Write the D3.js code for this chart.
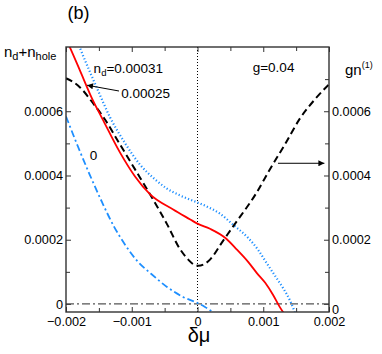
<!DOCTYPE html>
<html lang="en">
  <head>
    <meta charset="utf-8" />
    <title>n_d + n_hole vs delta mu</title>
    <script src="https://d3js.org/d3.v7.js"></script>
    <style>
      body { margin: 0; background: #fff; }
    </style>
  </head>
  <body>
    <div id="graph"></div>
    <script>

    // ---- data ----
    // black dashed: gn^(1) (right axis)
    var dmuGn = [-0.002, -0.00179, -0.0016, -0.00141, -0.00118, -0.00095, -0.00072, -0.00046, -0.00027, -0.00014, -0.00005, 0.00001, 0.00011, 0.00019, 0.00037, 0.00054, 0.0009, 0.0011, 0.00133, 0.00156, 0.00179, 0.002];
    var gn1 = [0.000703, 0.000675, 0.000628, 0.000575, 0.000497, 0.000419, 0.000341, 0.000247, 0.000172, 0.000138, 0.000122, 0.000119, 0.000125, 0.000138, 0.000191, 0.000241, 0.000347, 0.000419, 0.000497, 0.000578, 0.000638, 0.000684];

    // red solid: n_d = 0.00025
    var dmuRed = [-0.002, -0.00195, -0.00179, -0.0016, -0.00145, -0.00118, -0.00095, -0.00072, -0.00037, -0.00011, 0, 0.00019, 0.00042, 0.0006, 0.00077, 0.0009, 0.00103, 0.00115, 0.00125, 0.00132];
    var nRed = [0.000825, 0.000803, 0.000728, 0.000638, 0.000578, 0.000472, 0.000397, 0.000341, 0.000294, 0.000263, 0.00025, 0.000234, 0.000206, 0.000169, 0.000131, 0.000097, 0.000066, 0.000028, -0.000009, -0.000031];

    // blue dotted: n_d = 0.00031
    var dmuDot = [-0.00186, -0.0018, -0.00151, -0.00133, -0.0011, -0.000875, -0.000646, -0.000464, -0.000266, -0.000114, 0, 0.000144, 0.000342, 0.00054, 0.000768, 0.00092, 0.00104, 0.00118, 0.0013, 0.00141, 0.00148];
    var nDot = [0.000834, 0.000803, 0.000663, 0.000581, 0.0005, 0.000434, 0.000388, 0.000359, 0.000338, 0.000325, 0.000316, 0.000303, 0.000281, 0.000247, 0.000206, 0.000169, 0.000131, 0.0000875, 0.00005, 0.0000094, -0.000025];

    // blue dash-dot: n_d = 0
    var dmuZero = [-0.002, -0.00182, -0.00164, -0.00145, -0.00127, -0.00109, -0.000905, -0.000722, -0.000464, -0.00022, 0, 0.000114, 0.000251];
    var nZero = [0.000584, 0.000491, 0.000403, 0.000316, 0.000241, 0.000181, 0.000131, 0.0000969, 0.0000531, 0.0000219, 0.0000031, -0.0000094, -0.000028];

    // ticks
    var xTicks = [-0.002, -0.001, 0, 0.001, 0.002];
    var xMinor = [-0.0015, -0.0005, 0.0005, 0.0015];
    var yTicks = [0, 0.0002, 0.0004, 0.0006];
    var yMinor = [0.0001, 0.0003, 0.0005, 0.0007];

    // ---- layout ----
    var w = 382, h = 354;
    var margin = {top: 47, right: 53, bottom: 42, left: 66};
    var innerWidth = w - margin.left - margin.right;
    var innerHeight = h - margin.top - margin.bottom;
    var FONT = "'Liberation Sans', Arial, Helvetica, sans-serif";

    var x = d3.scaleLinear().domain([-0.002, 0.002]).range([0, innerWidth]);
    var y = d3.scaleLinear().domain([-0.000025, 0.0008]).range([innerHeight, 0]);

    var svg = d3.select("#graph")
      .append("svg")
        .attr("width", w)
        .attr("height", h)
        .attr("font-family", FONT)
      .append("g")
        .attr("transform", `translate(${margin.left},${margin.top})`);

    var defs = svg.append("defs");
    defs.append("clipPath").attr("id", "plotclip")
      .append("rect").attr("width", innerWidth).attr("height", innerHeight);
    defs.append("marker")
        .attr("id", "head")
        .attr("viewBox", "0 0 10 10")
        .attr("refX", 10).attr("refY", 5)
        .attr("markerWidth", 7).attr("markerHeight", 6)
        .attr("markerUnits", "userSpaceOnUse")
        .attr("orient", "auto")
      .append("path")
        .attr("d", "M0,0L10,5L0,10z")
        .attr("fill", "#000");

    // ---- axes (ticks inward, on all four sides) ----
    function styleAxis(g) {
      g.attr("font-size", 12.7).attr("font-family", FONT);
      g.select(".domain").remove();
      g.selectAll("line").attr("stroke", "#333").attr("stroke-width", 1);
    }
    // ticks only, no labels
    function bareAxis(g) {
      styleAxis(g);
      g.selectAll("text").remove();
    }
    var fmt = d3.format("");
    var tickFmt = function (d) { return d === 0 ? "0" : fmt(d); };

    svg.append("g").attr("transform", `translate(0,${innerHeight})`)
      .call(d3.axisBottom(x).tickValues(xTicks).tickSize(-5).tickPadding(5).tickFormat(tickFmt)).call(styleAxis);
    svg.append("g").attr("transform", `translate(0,${innerHeight})`)
      .call(d3.axisBottom(x).tickValues(xMinor).tickSize(-4)).call(bareAxis);
    svg.append("g")
      .call(d3.axisTop(x).tickValues(xTicks).tickSize(-5)).call(bareAxis);
    svg.append("g")
      .call(d3.axisTop(x).tickValues(xMinor).tickSize(-4)).call(bareAxis);

    svg.append("g")
      .call(d3.axisLeft(y).tickValues(yTicks).tickSize(-5).tickPadding(3).tickFormat(tickFmt)).call(styleAxis);
    svg.append("g")
      .call(d3.axisLeft(y).tickValues(yMinor).tickSize(-4)).call(bareAxis);
    var rightAxis = svg.append("g").attr("transform", `translate(${innerWidth},0)`)
      .call(d3.axisRight(y).tickValues(yTicks).tickSize(-5).tickPadding(3).tickFormat(tickFmt)).call(styleAxis);
    svg.append("g").attr("transform", `translate(${innerWidth},0)`)
      .call(d3.axisRight(y).tickValues(yMinor).tickSize(-4)).call(bareAxis);
    // right-hand "0" sits a little lower in the original
    rightAxis.selectAll(".tick text").filter(d => d === 0).attr("dy", "0.75em");

    // ---- reference lines ----
    var plot = svg.append("g").attr("clip-path", "url(#plotclip)");
    plot.append("line")
      .attr("x1", 0).attr("x2", innerWidth)
      .attr("y1", y(0)).attr("y2", y(0))
      .attr("stroke", "#555").attr("stroke-width", 1.2)
      .attr("stroke-dasharray", "8,3,2,3");
    plot.append("line")
      .attr("x1", x(0)).attr("x2", x(0))
      .attr("y1", 0).attr("y2", innerHeight)
      .attr("stroke", "#000").attr("stroke-width", 1)
      .attr("stroke-dasharray", "1,2");

    // ---- curves ----
    var line = d3.line()
      .x(d => x(d[0]))
      .y(d => y(d[1]))
      .curve(d3.curveMonotoneX);

    function pairs(xs, ys) { return xs.map((v, i) => [v, ys[i]]); }

    var series = [
      {xs: dmuZero, ys: nZero, color: "#1e8fff", width: 1.8, dash: "7,3,2,3"},
      {xs: dmuDot, ys: nDot, color: "#1e8fff", width: 2.2, dash: "1.2,2.2"},
      {xs: dmuGn, ys: gn1, color: "#000", width: 2, dash: "7,4"},
      {xs: dmuRed, ys: nRed, color: "#ff0000", width: 1.8, dash: null}
    ];

    series.forEach(function (s) {
      plot.append("path")
        .datum(pairs(s.xs, s.ys))
        .attr("fill", "none")
        .attr("stroke", s.color)
        .attr("stroke-width", s.width)
        .attr("stroke-dasharray", s.dash)
        .attr("d", line);
    });

    // frame
    svg.append("rect")
      .attr("width", innerWidth).attr("height", innerHeight)
      .attr("fill", "none").attr("stroke", "#333").attr("stroke-width", 1.4);

    // ---- annotations ----
    svg.append("line")
      .attr("x1", x(-0.001194)).attr("y1", y(0.000663))
      .attr("x2", x(-0.00168)).attr("y2", y(0.000681))
      .attr("stroke", "#000").attr("stroke-width", 1)
      .attr("marker-end", "url(#head)");
    svg.append("line")
      .attr("x1", x(0.001224)).attr("y1", y(0.000438))
      .attr("x2", x(0.00193)).attr("y2", y(0.000438))
      .attr("stroke", "#000").attr("stroke-width", 1)
      .attr("marker-end", "url(#head)");

    var nd = svg.append("text")
      .attr("x", x(-0.00158)).attr("y", y(0.000719))
      .attr("font-size", 13.5);
    nd.append("tspan").text("n");
    nd.append("tspan").attr("dy", 3).attr("font-size", 9.5).text("d");
    nd.append("tspan").attr("dy", -3).text("=0.00031");

    svg.append("text")
      .attr("x", x(-0.00116)).attr("y", y(0.000641))
      .attr("font-size", 13.5)
      .text("0.00025");

    svg.append("text")
      .attr("x", x(-0.00164)).attr("y", y(0.000447))
      .attr("font-size", 13.5)
      .text("0");

    svg.append("text")
      .attr("x", x(0.00084)).attr("y", y(0.000723))
      .attr("font-size", 13.5)
      .text("g=0.04");

    // outer labels (relative to the svg group)
    svg.append("text")
      .attr("x", 78.5 - margin.left).attr("y", 19 - margin.top)
      .attr("text-anchor", "middle")
      .attr("font-size", 18)
      .text("(b)");

    var yl = svg.append("text")
      .attr("x", 4 - margin.left).attr("y", 57 - margin.top)
      .attr("font-size", 15);
    yl.append("tspan").text("n");
    yl.append("tspan").attr("dy", 3).attr("font-size", 11).text("d");
    yl.append("tspan").attr("dy", -3).text("+n");
    yl.append("tspan").attr("dy", 3).attr("font-size", 11).text("hole");

    var gl = svg.append("text")
      .attr("x", 345 - margin.left).attr("y", 75 - margin.top)
      .attr("font-size", 15);
    gl.append("tspan").text("gn");
    gl.append("tspan").attr("dy", -7).attr("font-size", 9).text("(1)");

    svg.append("text")
      .attr("x", x(0) + 1.5).attr("y", 342 - margin.top)
      .attr("text-anchor", "middle")
      .attr("font-size", 20)
      .text("δμ");

    </script>
  </body>
</html>
